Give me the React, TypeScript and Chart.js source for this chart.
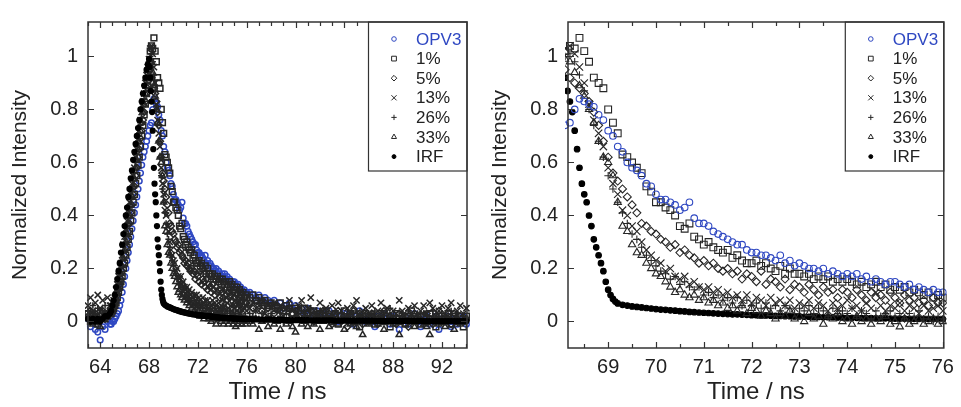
import React, { useEffect, useRef } from 'react';
import { Chart, registerables } from 'chart.js';
import { drawPoint } from 'chart.js/helpers';

Chart.register(...registerables);

// ---------- DATA ----------
const time = [
  63.0, 63.2, 63.4, 63.6, 63.8, 64.0, 64.2, 64.4, 64.6, 64.8,
  64.9, 65.0, 65.1, 65.2, 65.3, 65.4, 65.5, 65.6, 65.7, 65.8,
  65.9, 66.0, 66.1, 66.2, 66.3, 66.4, 66.5, 66.6, 66.7, 66.8,
  66.9, 67.0, 67.1, 67.2, 67.3, 67.4, 67.5, 67.6, 67.7, 67.8,
  67.9, 68.0,
  68.1, 68.2, 68.3, 68.4, 68.5, 68.6, 68.7, 68.8, 68.9, 69.0,
  69.1, 69.2, 69.3, 69.4, 69.5, 69.6, 69.7, 69.8, 69.9, 70.0,
  70.1, 70.2, 70.3, 70.4, 70.5, 70.6, 70.7, 70.8, 70.9, 71.0,
  71.1, 71.2, 71.3, 71.4, 71.5, 71.6, 71.7, 71.8, 71.9, 72.0,
  72.1, 72.2, 72.3, 72.4, 72.5, 72.6, 72.7, 72.8, 72.9, 73.0,
  73.1, 73.2, 73.3, 73.4, 73.5, 73.6, 73.7, 73.8, 73.9, 74.0,
  74.1, 74.2, 74.3, 74.4, 74.5, 74.6, 74.7, 74.8, 74.9, 75.0,
  75.1, 75.2, 75.3, 75.4, 75.5, 75.6, 75.7, 75.8, 75.9, 76.0,
  76.25, 76.5, 76.75, 77.0, 77.25, 77.5, 77.75, 78.0,
  78.25, 78.5, 78.75, 79.0, 79.25, 79.5, 79.75, 80.0,
  80.25, 80.5, 80.75, 81.0, 81.25, 81.5, 81.75, 82.0,
  82.25, 82.5, 82.75, 83.0, 83.25, 83.5, 83.75, 84.0,
  84.25, 84.5, 84.75, 85.0, 85.25, 85.5, 85.75, 86.0,
  86.25, 86.5, 86.75, 87.0, 87.25, 87.5, 87.75, 88.0,
  88.25, 88.5, 88.75, 89.0, 89.25, 89.5, 89.75, 90.0,
  90.25, 90.5, 90.75, 91.0, 91.25, 91.5, 91.75, 92.0,
  92.25, 92.5, 92.75, 93.0, 93.25, 93.5, 93.75, 94.0,
];

const opv3 = [
  0.01, -0.02, 0.00, -0.03, -0.04, -0.07, -0.02, -0.03, 0.00, -0.01,
  -0.01, 0.00, 0.00, 0.01, 0.02, 0.03, 0.04, 0.06, 0.08, 0.11,
  0.14, 0.17, 0.20, 0.23, 0.26, 0.29, 0.32, 0.35, 0.38, 0.41,
  0.44, 0.47, 0.50, 0.53, 0.56, 0.59, 0.62, 0.64, 0.66, 0.68,
  0.70, 0.72,
  0.74, 0.75, 0.80, 0.84, 0.83, 0.82, 0.81, 0.78, 0.76, 0.72,
  0.70, 0.66, 0.64, 0.60, 0.58, 0.57, 0.55, 0.52, 0.51, 0.48,
  0.46, 0.46, 0.45, 0.44, 0.42, 0.43, 0.45, 0.39, 0.37, 0.37,
  0.36, 0.34, 0.33, 0.32, 0.31, 0.30, 0.29, 0.29, 0.27, 0.26,
  0.26, 0.25, 0.25, 0.24, 0.23, 0.25, 0.22, 0.23, 0.21, 0.22,
  0.21, 0.20, 0.20, 0.19, 0.20, 0.18, 0.19, 0.18, 0.17, 0.18,
  0.17, 0.18, 0.16, 0.17, 0.15, 0.16, 0.15, 0.14, 0.15, 0.15,
  0.14, 0.13, 0.14, 0.12, 0.13, 0.12, 0.11, 0.12, 0.11, 0.11,
  0.11, 0.10, 0.09, 0.10, 0.08, 0.09, 0.08, 0.07,
  0.08, 0.06, 0.07, 0.05, 0.06, 0.07, 0.05, 0.06,
  0.04, 0.05, 0.03, 0.05, 0.04, 0.02, 0.04, 0.03,
  0.03, 0.01, 0.04, 0.02, 0.03, 0.00, 0.02, 0.03,
  0.01, 0.03, -0.01, 0.02, 0.04, 0.01, 0.00, 0.02,
  0.01, -0.02, 0.02, 0.00, 0.03, 0.01, -0.01, 0.02,
  0.00, -0.03, 0.01, 0.02, -0.01, 0.01, 0.03, 0.00,
  -0.02, 0.01, 0.02, -0.01, 0.00, 0.02, -0.03, 0.01,
  0.00, 0.02, -0.02, 0.01, -0.01, 0.00, 0.02, -0.01,
];

const p1 = [
  0.03, 0.00, 0.02, 0.01, -0.01, 0.02, 0.03, 0.01, 0.02, 0.03,
  0.03, 0.04, 0.05, 0.06, 0.07, 0.09, 0.11, 0.13, 0.15, 0.17,
  0.20, 0.22, 0.25, 0.28, 0.31, 0.34, 0.38, 0.41, 0.45, 0.48,
  0.52, 0.55, 0.59, 0.62, 0.66, 0.70, 0.74, 0.78, 0.82, 0.86,
  0.91, 0.95,
  1.02, 1.04, 1.03, 1.07, 1.02, 0.98, 0.92, 0.90, 0.88, 0.80,
  0.75, 0.71, 0.63, 0.62, 0.60, 0.58, 0.56, 0.51, 0.49, 0.45,
  0.45, 0.43, 0.42, 0.40, 0.36, 0.35, 0.37, 0.32, 0.31, 0.29,
  0.30, 0.28, 0.27, 0.26, 0.27, 0.24, 0.25, 0.23, 0.22, 0.22,
  0.23, 0.21, 0.22, 0.20, 0.19, 0.21, 0.18, 0.20, 0.18, 0.18,
  0.17, 0.18, 0.16, 0.17, 0.16, 0.17, 0.15, 0.16, 0.15, 0.16,
  0.15, 0.14, 0.15, 0.13, 0.14, 0.15, 0.13, 0.14, 0.12, 0.13,
  0.12, 0.13, 0.11, 0.12, 0.11, 0.10, 0.11, 0.09, 0.10, 0.09,
  0.09, 0.10, 0.08, 0.09, 0.07, 0.08, 0.06, 0.07,
  0.06, 0.05, 0.07, 0.04, 0.06, 0.05, 0.03, 0.05,
  0.04, 0.02, 0.05, 0.03, 0.01, 0.04, 0.02, 0.03,
  0.01, 0.04, 0.02, 0.00, 0.03, -0.01, 0.02, 0.04,
  0.01, 0.03, 0.00, 0.02, -0.02, 0.01, 0.03, 0.00,
  0.02, -0.01, 0.01, 0.03, 0.00, 0.02, -0.02, 0.01,
  0.03, 0.00, 0.01, -0.01, 0.02, 0.04, 0.00, 0.01,
  -0.01, 0.02, 0.00, 0.03, 0.01, -0.02, 0.02, 0.00,
  0.01, 0.03, -0.01, 0.02, 0.00, 0.01, -0.02, 0.02,
];

const p5 = [
  0.02, 0.04, 0.01, 0.03, 0.00, 0.02, 0.04, 0.01, 0.03, 0.04,
  0.04, 0.05, 0.06, 0.07, 0.08, 0.10, 0.12, 0.14, 0.16, 0.19,
  0.22, 0.25, 0.28, 0.31, 0.34, 0.37, 0.41, 0.44, 0.48, 0.51,
  0.55, 0.58, 0.62, 0.65, 0.69, 0.72, 0.76, 0.79, 0.83, 0.86,
  0.89, 0.92,
  0.95, 0.92, 0.90, 0.88, 0.86, 0.83, 0.79, 0.74, 0.68, 0.62,
  0.56, 0.53, 0.50, 0.47, 0.44, 0.41, 0.37, 0.36, 0.34, 0.33,
  0.31, 0.30, 0.28, 0.29, 0.26, 0.27, 0.25, 0.24, 0.22, 0.23,
  0.21, 0.22, 0.20, 0.19, 0.20, 0.18, 0.19, 0.16, 0.18, 0.17,
  0.15, 0.19, 0.14, 0.16, 0.15, 0.13, 0.16, 0.12, 0.14, 0.13,
  0.11, 0.14, 0.12, 0.10, 0.13, 0.11, 0.12, 0.09, 0.12, 0.11,
  0.09, 0.12, 0.10, 0.08, 0.11, 0.09, 0.10, 0.08, 0.11, 0.09,
  0.07, 0.10, 0.08, 0.09, 0.07, 0.08, 0.06, 0.09, 0.07, 0.07,
  0.07, 0.05, 0.08, 0.06, 0.04, 0.07, 0.05, 0.06,
  0.03, 0.06, 0.04, 0.05, 0.02, 0.05, 0.03, 0.04,
  0.02, 0.05, 0.01, 0.03, 0.04, 0.00, 0.03, 0.02,
  0.04, 0.01, 0.03, -0.01, 0.02, 0.04, 0.00, 0.02,
  -0.02, 0.02, 0.04, 0.01, 0.03, -0.01, 0.02, 0.00,
  0.03, 0.01, -0.01, 0.02, 0.04, 0.00, 0.02, 0.01,
  -0.01, 0.03, 0.01, 0.02, -0.02, 0.01, 0.03, 0.00,
  0.02, 0.00, 0.03, 0.01, -0.01, 0.02, 0.04, 0.01,
  0.00, 0.02, -0.01, 0.03, 0.01, 0.02, 0.00, 0.01,
];

const p13 = [
  0.06, 0.09, 0.04, 0.07, 0.10, 0.05, 0.08, 0.03, 0.09, 0.06,
  0.06, 0.07, 0.08, 0.09, 0.12, 0.14, 0.17, 0.19, 0.22, 0.25,
  0.29, 0.32, 0.35, 0.38, 0.42, 0.45, 0.49, 0.52, 0.55, 0.58,
  0.62, 0.65, 0.69, 0.72, 0.76, 0.79, 0.83, 0.86, 0.90, 0.93,
  0.96, 0.99,
  1.03, 1.04, 1.01, 0.96, 0.90, 0.82, 0.76, 0.71, 0.66, 0.58,
  0.52, 0.48, 0.42, 0.40, 0.36, 0.34, 0.30, 0.27, 0.25, 0.23,
  0.22, 0.19, 0.20, 0.17, 0.16, 0.17, 0.14, 0.15, 0.13, 0.12,
  0.13, 0.11, 0.12, 0.10, 0.11, 0.09, 0.10, 0.08, 0.10, 0.07,
  0.09, 0.08, 0.06, 0.09, 0.07, 0.08, 0.06, 0.08, 0.05, 0.07,
  0.06, 0.08, 0.05, 0.07, 0.06, 0.04, 0.07, 0.05, 0.06, 0.08,
  0.05, 0.06, 0.04, 0.07, 0.05, 0.11, 0.06, 0.04, 0.06, 0.05,
  0.07, 0.04, 0.06, 0.05, 0.03, 0.06, 0.04, 0.05, 0.06, 0.04,
  0.05, 0.07, 0.04, 0.06, 0.08, 0.03, 0.06, 0.05,
  0.07, 0.04, 0.06, 0.02, 0.05, 0.08, 0.04, 0.03,
  0.06, 0.08, 0.03, 0.05, 0.09, 0.04, 0.02, 0.07,
  0.04, 0.05, 0.02, 0.06, 0.03, 0.07, 0.04, 0.01,
  0.05, 0.03, 0.06, 0.08, 0.02, 0.04, 0.05, 0.03,
  0.06, 0.02, 0.04, 0.07, 0.03, 0.05, 0.01, 0.04,
  0.03, 0.08, 0.04, 0.02, 0.05, 0.03, 0.06, 0.02,
  0.04, 0.06, 0.03, 0.07, 0.05, 0.02, 0.04, 0.06,
  0.03, 0.05, 0.07, 0.02, 0.04, 0.06, 0.03, 0.05,
];

const p26 = [
  0.04, 0.02, 0.06, 0.03, 0.05, 0.01, 0.04, 0.06, 0.03, 0.05,
  0.06, 0.05, 0.07, 0.08, 0.10, 0.12, 0.15, 0.17, 0.20, 0.23,
  0.26, 0.29, 0.33, 0.36, 0.39, 0.42, 0.46, 0.49, 0.53, 0.56,
  0.60, 0.63, 0.67, 0.70, 0.74, 0.77, 0.81, 0.84, 0.88, 0.91,
  0.94, 0.97,
  1.00, 1.01, 0.98, 0.93, 0.87, 0.80, 0.74, 0.68, 0.62, 0.55,
  0.50, 0.45, 0.41, 0.37, 0.33, 0.31, 0.28, 0.25, 0.23, 0.21,
  0.19, 0.18, 0.16, 0.17, 0.14, 0.15, 0.13, 0.12, 0.13, 0.10,
  0.11, 0.09, 0.10, 0.08, 0.09, 0.07, 0.09, 0.06, 0.08, 0.06,
  0.07, 0.05, 0.07, 0.05, 0.06, 0.04, 0.06, 0.05, 0.03, 0.05,
  0.04, 0.06, 0.03, 0.05, 0.04, 0.02, 0.05, 0.03, 0.04, 0.03,
  0.05, 0.02, 0.04, 0.03, 0.01, 0.04, 0.02, 0.03, 0.04, 0.02,
  0.03, 0.01, 0.03, 0.02, 0.04, 0.01, 0.02, 0.00, 0.02, 0.01,
  0.03, 0.02, 0.04, 0.01, 0.03, 0.05, 0.02, 0.03,
  0.01, 0.04, 0.02, 0.00, 0.03, 0.05, 0.01, 0.02,
  0.04, 0.01, 0.03, 0.02, 0.05, 0.00, 0.02, 0.04,
  0.01, 0.03, 0.00, 0.02, 0.04, 0.01, 0.03, 0.02,
  0.00, 0.03, 0.01, 0.04, 0.02, 0.00, 0.03, 0.01,
  0.02, 0.04, 0.00, 0.02, 0.01, 0.03, 0.05, 0.01,
  0.02, 0.00, 0.03, 0.01, 0.04, 0.02, 0.00, 0.03,
  0.01, 0.03, 0.02, 0.00, 0.04, 0.01, 0.02, 0.03,
  0.00, 0.02, 0.04, 0.01, 0.03, 0.00, 0.02, 0.01,
];

const p33 = [
  0.01, 0.03, -0.01, 0.02, 0.00, -0.02, 0.01, 0.03, 0.02, 0.04,
  0.05, 0.04, 0.06, 0.07, 0.09, 0.11, 0.13, 0.15, 0.18, 0.21,
  0.24, 0.27, 0.30, 0.33, 0.37, 0.40, 0.44, 0.47, 0.51, 0.54,
  0.58, 0.61, 0.65, 0.68, 0.72, 0.75, 0.79, 0.82, 0.86, 0.89,
  0.92, 0.95,
  0.99, 0.98, 0.94, 0.89, 0.85, 0.80, 0.75, 0.68, 0.62, 0.60,
  0.55, 0.45, 0.36, 0.34, 0.29, 0.26, 0.25, 0.22, 0.20, 0.18,
  0.17, 0.15, 0.13, 0.11, 0.12, 0.10, 0.09, 0.10, 0.08, 0.09,
  0.07, 0.08, 0.06, 0.07, 0.05, 0.06, 0.04, 0.06, 0.03, 0.05,
  0.04, 0.02, 0.04, 0.03, 0.01, 0.03, 0.02, 0.04, 0.01, 0.02,
  0.00, 0.03, 0.01, 0.02, -0.01, 0.02, 0.01, 0.03, 0.00, 0.01,
  -0.01, 0.02, 0.00, 0.01, -0.01, 0.01, 0.00, 0.02, -0.01, 0.00,
  -0.02, 0.01, -0.01, 0.00, 0.01, -0.01, 0.00, 0.01, -0.01, 0.00,
  0.00, -0.01, 0.01, -0.03, 0.00, 0.02, -0.02, 0.01,
  -0.01, 0.00, -0.03, 0.01, -0.01, 0.00, -0.02, -0.04,
  0.01, -0.01, 0.00, -0.02, 0.02, -0.01, 0.00, -0.03,
  0.00, 0.01, -0.02, 0.02, 0.00, -0.01, 0.01, -0.03,
  0.01, -0.01, 0.00, -0.02, 0.02, -0.05, 0.00, -0.01,
  0.02, 0.00, -0.01, 0.01, -0.03, 0.00, 0.02, -0.01,
  0.00, -0.05, 0.01, -0.01, 0.00, 0.02, -0.02, 0.00,
  0.01, -0.01, -0.02, -0.05, 0.00, 0.01, -0.01, 0.00,
  -0.02, 0.01, 0.00, -0.03, 0.01, -0.01, 0.00, 0.01,
];

const irf = [
  0.01, 0.00, 0.01, 0.00, 0.01, 0.00, 0.01, 0.02, 0.02, 0.03,
  0.04, 0.06, 0.08, 0.10, 0.13, 0.16, 0.19, 0.22, 0.26, 0.29,
  0.33, 0.36, 0.40, 0.43, 0.47, 0.50, 0.54, 0.57, 0.61, 0.64,
  0.67, 0.70, 0.73, 0.76, 0.80, 0.83, 0.86, 0.89, 0.92, 0.95,
  0.97, 0.99,
  0.92, 0.83, 0.72, 0.58, 0.48, 0.40, 0.31, 0.25, 0.19, 0.12,
  0.085, 0.068, 0.063, 0.060, 0.057, 0.055, 0.053, 0.051, 0.049, 0.047,
  0.045, 0.044, 0.042, 0.041, 0.039, 0.038, 0.036, 0.035, 0.034, 0.033,
  0.032, 0.031, 0.030, 0.029, 0.028, 0.027, 0.027, 0.026, 0.025, 0.024,
  0.024, 0.023, 0.023, 0.022, 0.021, 0.021, 0.020, 0.020, 0.019, 0.019,
  0.018, 0.018, 0.017, 0.017, 0.016, 0.016, 0.016, 0.015, 0.015, 0.014,
  0.014, 0.014, 0.013, 0.013, 0.013, 0.012, 0.012, 0.012, 0.011, 0.011,
  0.011, 0.011, 0.010, 0.010, 0.010, 0.010, 0.009, 0.009, 0.009, 0.009,
  0.009, 0.008, 0.008, 0.008, 0.007, 0.007, 0.007, 0.007,
  0.006, 0.006, 0.006, 0.006, 0.006, 0.005, 0.005, 0.005,
  0.005, 0.005, 0.005, 0.005, 0.004, 0.004, 0.004, 0.004,
  0.004, 0.004, 0.004, 0.004, 0.003, 0.003, 0.003, 0.003,
  0.003, 0.003, 0.003, 0.003, 0.003, 0.003, 0.003, 0.003,
  0.003, 0.002, 0.002, 0.002, 0.002, 0.002, 0.002, 0.002,
  0.002, 0.002, 0.002, 0.002, 0.002, 0.002, 0.002, 0.002,
  0.002, 0.001, 0.001, 0.001, 0.001, 0.001, 0.001, 0.001,
  0.001, 0.001, 0.001, 0.001, 0.001, 0.001, 0.001, 0.001,
];

// extra IRF samples on the steep fall
const irfFineTime = [68.05, 68.15, 68.25, 68.35, 68.45, 68.55, 68.65, 68.75, 68.85, 68.95, 69.05, 69.15];
const irfFine = [0.96, 0.87, 0.79, 0.65, 0.52, 0.45, 0.36, 0.28, 0.22, 0.15, 0.10, 0.075];

const seriesLabels = ['OPV3', '1%', '5%', '13%', '26%', '33%', 'IRF'];

const leftXTicks = [64, 68, 72, 76, 80, 84, 88, 92];
const leftXMinor = [63, 65, 66, 67, 69, 70, 71, 73, 74, 75, 77, 78, 79, 81, 82, 83, 85, 86, 87, 89, 90, 91, 93, 94];
const rightXTicks = [69, 70, 71, 72, 73, 74, 75, 76];
const rightXMinor = [68.5, 69.5, 70.5, 71.5, 72.5, 73.5, 74.5, 75.5];
const yTicks = [0, 0.2, 0.4, 0.6, 0.8, 1];
const yTickLabels = ['0', '0.2', '0.4', '0.6', '0.8', '1'];

// ---------- STYLE ----------
const FONT = "'Liberation Sans', Arial, Helvetica, sans-serif";
const BLUE = '#2f48c2';
const GRAY = '#262626';
const NONE = 'rgba(0,0,0,0)';

const seriesStyle = [
  { style: 'circle', r: 3.3, color: BLUE, fill: NONE },
  { style: 'rect', r: 4.8, color: GRAY, fill: NONE },
  { style: 'rectRot', r: 4.0, color: GRAY, fill: NONE },
  { style: 'crossRot', r: 5.2, color: GRAY, fill: NONE },
  { style: 'cross', r: 3.8, color: GRAY, fill: NONE },
  { style: 'triangle', r: 4.2, color: GRAY, fill: NONE },
  { style: 'circle', r: 2.8, color: '#000', fill: '#000' },
];

const seriesValues = [opv3, p1, p5, p13, p26, p33, irf];

function buildDatasets(scale: number, bw: number, blueOnTop: boolean) {
  return seriesLabels.map((label, k) => {
    const st = seriesStyle[k];
    let data = time.map((t, i) => ({ x: t, y: seriesValues[k][i] }));
    if (label === 'IRF') {
      data = data.concat(irfFineTime.map((t, i) => ({ x: t, y: irfFine[i] })));
    }
    return {
      label,
      data,
      order: blueOnTop ? k : 6 - k,
      showLine: false,
      pointStyle: st.style,
      pointRadius: st.r * scale,
      pointBorderColor: st.color,
      pointBackgroundColor: st.fill,
      pointBorderWidth: bw,
      clip: 3,
    };
  });
}

const framePlugin = {
  id: 'frameTicks',
  afterDraw(chart: any, _args: any, opts: any) {
    const { ctx, chartArea, scales } = chart;
    const { left, right, top, bottom } = chartArea;
    const xs = scales.x;
    const ys = scales.y;
    ctx.save();
    ctx.strokeStyle = '#333';
    ctx.lineWidth = 1.2;
    ctx.beginPath();
    for (const v of opts.xMajor) {
      const px = Math.round(xs.getPixelForValue(v)) + 0.5;
      ctx.moveTo(px, bottom); ctx.lineTo(px, bottom - 6);
      ctx.moveTo(px, top); ctx.lineTo(px, top + 6);
    }
    for (const v of opts.xMinor) {
      const px = Math.round(xs.getPixelForValue(v)) + 0.5;
      ctx.moveTo(px, bottom); ctx.lineTo(px, bottom - 4);
      ctx.moveTo(px, top); ctx.lineTo(px, top + 4);
    }
    for (const v of yTicks) {
      const py = Math.round(ys.getPixelForValue(v)) + 0.5;
      ctx.moveTo(left, py); ctx.lineTo(left + 6, py);
      ctx.moveTo(right, py); ctx.lineTo(right - 6, py);
    }
    ctx.stroke();

    // legend box
    const bw = 99;
    const bh = 149;
    const bx = right - bw;
    const by = top;
    ctx.fillStyle = '#fff';
    ctx.fillRect(bx, by, bw, bh);
    ctx.lineWidth = 1.2;
    ctx.strokeStyle = '#333';
    ctx.strokeRect(bx + 0.5, by, bw - 0.5, bh);

    ctx.font = `17px ${FONT}`;
    ctx.textBaseline = 'middle';
    ctx.textAlign = 'left';
    seriesLabels.forEach((label, k) => {
      const st = seriesStyle[k];
      const cy = by + 17 + k * 19.6;
      ctx.strokeStyle = st.color;
      ctx.fillStyle = st.fill;
      ctx.lineWidth = 1;
      drawPoint(ctx, { pointStyle: st.style, radius: st.r * 0.7, rotation: 0, borderWidth: 1 } as any, bx + 26, cy);
      ctx.fillStyle = k === 0 ? BLUE : '#222';
      ctx.fillText(label, bx + 48, cy + 1);
    });

    // frame
    ctx.strokeStyle = '#333';
    ctx.lineWidth = 1.5;
    ctx.strokeRect(left, top, right - left, bottom - top);
    ctx.restore();
  },
};

function Panel(props: { width: number; xMin: number; xMax: number; xTicks: number[]; xMinor: number[]; scale: number; bw: number; blueOnTop: boolean }) {
  const ref = useRef<HTMLCanvasElement | null>(null);
  useEffect(() => {
    if (!ref.current) return;
    const { width, xMin, xMax, xTicks, xMinor, scale, bw, blueOnTop } = props;
    const chart = new Chart(ref.current, {
      type: 'scatter',
      data: { datasets: buildDatasets(scale, bw, blueOnTop) as any },
      options: {
        animation: false,
        responsive: false,
        devicePixelRatio: 1,
        events: [],
        layout: { padding: { left: 0, top: 14, right: width - 467, bottom: 0 } },
        plugins: {
          legend: { display: false },
          tooltip: { enabled: false },
          frameTicks: { xMajor: xTicks, xMinor },
        } as any,
        scales: {
          x: {
            type: 'linear',
            min: xMin,
            max: xMax,
            grid: { display: false, drawTicks: false },
            border: { display: false },
            afterBuildTicks: (s: any) => { s.ticks = xTicks.map((v) => ({ value: v })); },
            afterFit: (s: any) => { s.height = 59; },
            ticks: {
              autoSkip: false,
              maxRotation: 0,
              padding: 7,
              color: '#222',
              font: { family: FONT, size: 20 },
              callback: (v: any) => String(v),
            },
            title: {
              display: true,
              text: 'Time / ns',
              color: '#222',
              font: { family: FONT, size: 24 },
              padding: 0,
            },
          },
          y: {
            type: 'linear',
            min: -0.1,
            max: 1.13,
            grid: { display: false, drawTicks: false },
            border: { display: false },
            afterBuildTicks: (s: any) => { s.ticks = yTicks.map((v) => ({ value: v })); },
            afterFit: (s: any) => { s.width = 88; },
            ticks: {
              padding: 10,
              color: '#222',
              font: { family: FONT, size: 20 },
              callback: (_v: any, i: number) => yTickLabels[i],
            },
            title: {
              display: true,
              text: 'Normalized Intensity',
              color: '#222',
              font: { family: FONT, size: 21 },
              padding: { top: 8, bottom: 0 },
            },
          },
        },
      },
      plugins: [framePlugin],
    });
    return () => chart.destroy();
  }, []);
  return (
    <canvas
      ref={ref}
      width={props.width}
      height={407}
      style={{ display: 'block', width: props.width, height: 407 }}
    />
  );
}

export default function App() {
  return (
    <div style={{ position: 'absolute', left: 0, top: 0, width: 961, height: 407, display: 'flex', background: '#fff' }}>
      <Panel width={480} xMin={63.0} xMax={94.05} xTicks={leftXTicks} xMinor={leftXMinor} scale={0.85} bw={1.5} blueOnTop={false} />
      <Panel width={481} xMin={68.16} xMax={76.02} xTicks={rightXTicks} xMinor={rightXMinor} scale={1} bw={1.1} blueOnTop={true} />
    </div>
  );
}
